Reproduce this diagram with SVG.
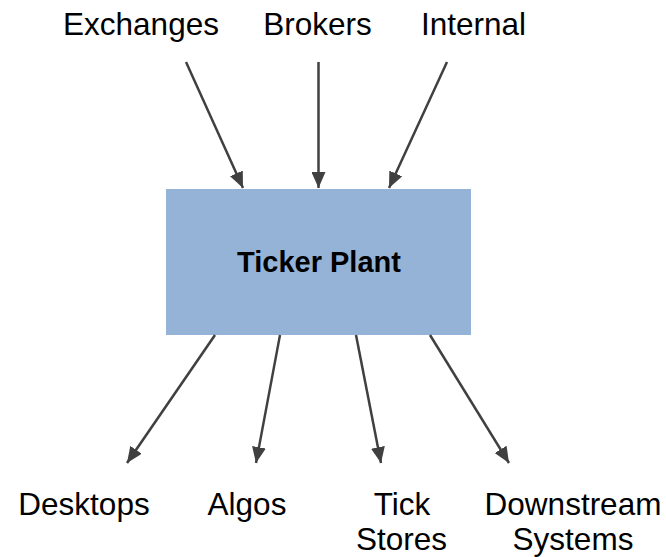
<svg xmlns="http://www.w3.org/2000/svg" width="666" height="557" viewBox="0 0 666 557">
<style>
text{font-family:"Liberation Sans",Arial,sans-serif;font-size:31.5px;fill:#000;text-anchor:middle}
.b{font-weight:bold;font-size:29px}
.c{stroke:#404040;stroke-width:2.5;fill:none}
</style>
<defs>
<marker id="ah" viewBox="0 0 16 14" refX="16" refY="7" markerWidth="16" markerHeight="14" markerUnits="userSpaceOnUse" orient="auto">
<path d="M0,0 L16,7 L0,14 Z" fill="#404040"/>
</marker>
</defs>
<rect width="666" height="557" fill="#fff"/>
<g id="ticker-plant">
<rect x="166" y="189" width="305" height="146" fill="#95B3D7"/>
<text class="b" x="319" y="272">Ticker Plant</text>
</g>
<g id="exchanges"><text x="141" y="35">Exchanges</text></g>
<g id="brokers"><text x="317.5" y="35">Brokers</text></g>
<g id="internal"><text x="473.5" y="35">Internal</text></g>
<g id="desktops"><text x="84" y="515">Desktops</text></g>
<g id="algos"><text x="247" y="515">Algos</text></g>
<g id="tick-stores"><text x="402" y="515">Tick</text><text x="401.5" y="550">Stores</text></g>
<g id="downstream"><text x="573" y="515">Downstream</text><text x="573" y="550">Systems</text></g>
<g id="connectors">
<line class="c" x1="186" y1="62" x2="243" y2="188" marker-end="url(#ah)"/>
<line class="c" x1="318.5" y1="62" x2="318.5" y2="188" marker-end="url(#ah)"/>
<line class="c" x1="447" y1="62" x2="389" y2="188" marker-end="url(#ah)"/>
<line class="c" x1="215" y1="335" x2="127" y2="463" marker-end="url(#ah)"/>
<line class="c" x1="280" y1="335" x2="256" y2="463" marker-end="url(#ah)"/>
<line class="c" x1="356" y1="335" x2="381" y2="463" marker-end="url(#ah)"/>
<line class="c" x1="430" y1="335" x2="509" y2="463" marker-end="url(#ah)"/>
</g>
</svg>
